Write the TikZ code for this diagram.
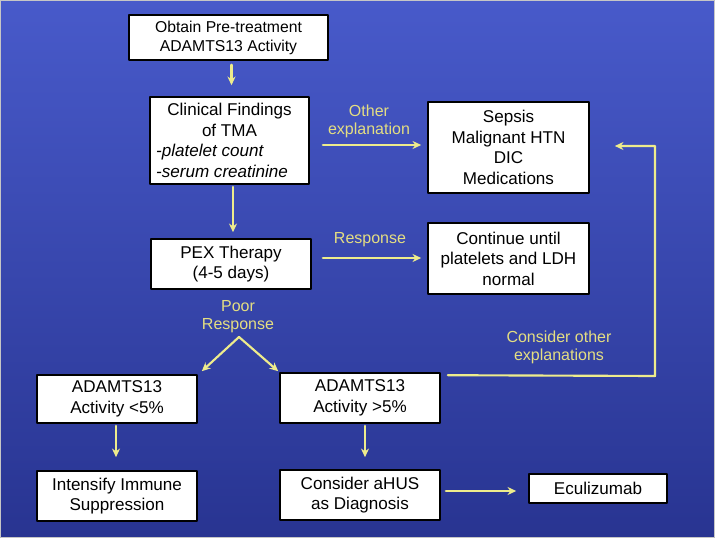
\documentclass[tikz,border=0pt]{standalone}
\usepackage{fontspec}
\setmainfont{Liberation Sans}
\usetikzlibrary{arrows.meta,calc}
\definecolor{bgtop}{RGB}{72,90,202}
\definecolor{bgbot}{RGB}{40,52,145}
\definecolor{arrowyellow}{RGB}{238,236,140}
\definecolor{labelyellow}{RGB}{228,222,130}
\begin{document}
\begin{tikzpicture}[x=0.75pt,y=-0.75pt,line cap=round,line join=round,>={Stealth[length=6.5pt,width=6pt]},
	box/.style={draw=black,line width=1.2pt,fill=white,inner sep=0pt,align=center,font=\fontsize{12.8}{15.4}\selectfont},
	arr/.style={->,draw=arrowyellow,line width=1.6pt},
	lbl/.style={text=labelyellow,align=center,font=\fontsize{12}{13.6}\selectfont}]
		\useasboundingbox (0,0) rectangle (715,538);
		\shade[top color=bgtop,bottom color=bgbot] (0,0) rectangle (715,538);
		\draw[gray!45,line width=0.9pt] (0.8,0.8) rectangle (714.2,537.2);
		% boxes
		\node[box,minimum width=149.25pt,minimum height=33.75pt,font=\fontsize{11.8}{14.2}\selectfont] (obtain) at (228.5,37.5) {Obtain Pre-treatment\\ADAMTS13 Activity};
		\node[box,minimum width=119.25pt,minimum height=65.25pt] (tma) at (229.5,140.5) {Clinical Findings\\of TMA\\\makebox[110pt][l]{\itshape -platelet count}\\\makebox[110pt][l]{\itshape -serum creatinine}};
		\node[box,minimum width=120.75pt,minimum height=68.25pt] (sepsis) at (508.5,147.5) {Sepsis\\Malignant HTN\\DIC\\Medications};
		\node[box,minimum width=120pt,minimum height=37.5pt] (pex) at (231,264) {PEX Therapy\\(4-5 days)};
		\node[box,minimum width=120.75pt,minimum height=53.25pt] (cont) at (508.5,258.5) {Continue until\\platelets and LDH\\normal};
		\node[box,minimum width=120pt,minimum height=36pt] (low) at (117,399) {ADAMTS13\\Activity <5\%};
		\node[box,minimum width=120pt,minimum height=37.5pt] (high) at (360,398) {ADAMTS13\\Activity >5\%};
		\node[box,minimum width=120pt,minimum height=37.5pt] (immune) at (117,496) {Intensify Immune\\Suppression};
		\node[box,minimum width=120pt,minimum height=37.5pt] (ahus) at (360,495) {Consider aHUS\\as Diagnosis};
		\node[box,minimum width=103.5pt,minimum height=21.75pt] (ecu) at (598,488.5) {Eculizumab};
		% labels
		\node[lbl] (othlbl) at (369,121) {Other\\explanation};
		\node[lbl] (resplbl) at (370,240) {Response};
		\node[lbl] (poorlbl) at (238,317) {Poor\\Response};
		\node[lbl] (conslbl) at (559,347) {Consider other\\explanations};
		\coordinate (split) at (239,337);
		\coordinate (fbcorner) at (655,376);
		% arrows
		\draw[arr] ($(obtain.south)+(3,4)$) -- ($(tma.north)+(2,-11)$);
		\draw[arr] ($(tma.south)+(3.5,2)$) -- ($(pex.north)+(2,-6)$);
		\draw[arr] ($(tma.east)+(13,4.5)$) -- ($(sepsis.west)+(-6,-2.5)$);
		\draw[arr] ($(pex.east)+(11,-6)$) -- ($(cont.west)+(-6,-0.5)$);
		\draw[arr] (split) -- ($(low.north east)+(4,-3)$);
		\draw[arr] (split) -- ($(high.north west)+(-1,-1)$);
		\draw[arr] ($(high.north east)+(7,3)$) -- (fbcorner) |- ($(sepsis.east)+(25,-1.5)$);
		\draw[arr] ($(low.south)+(-1,2)$) -- ($(immune.north)+(-1,-13)$);
		\draw[arr] ($(high.south)+(5,2)$) -- ($(ahus.north)+(5,-12)$);
		\draw[arr] ($(ahus.east)+(5,-4)$) -- ($(ecu.west)+(-12,2.5)$);
\end{tikzpicture}
\end{document}
